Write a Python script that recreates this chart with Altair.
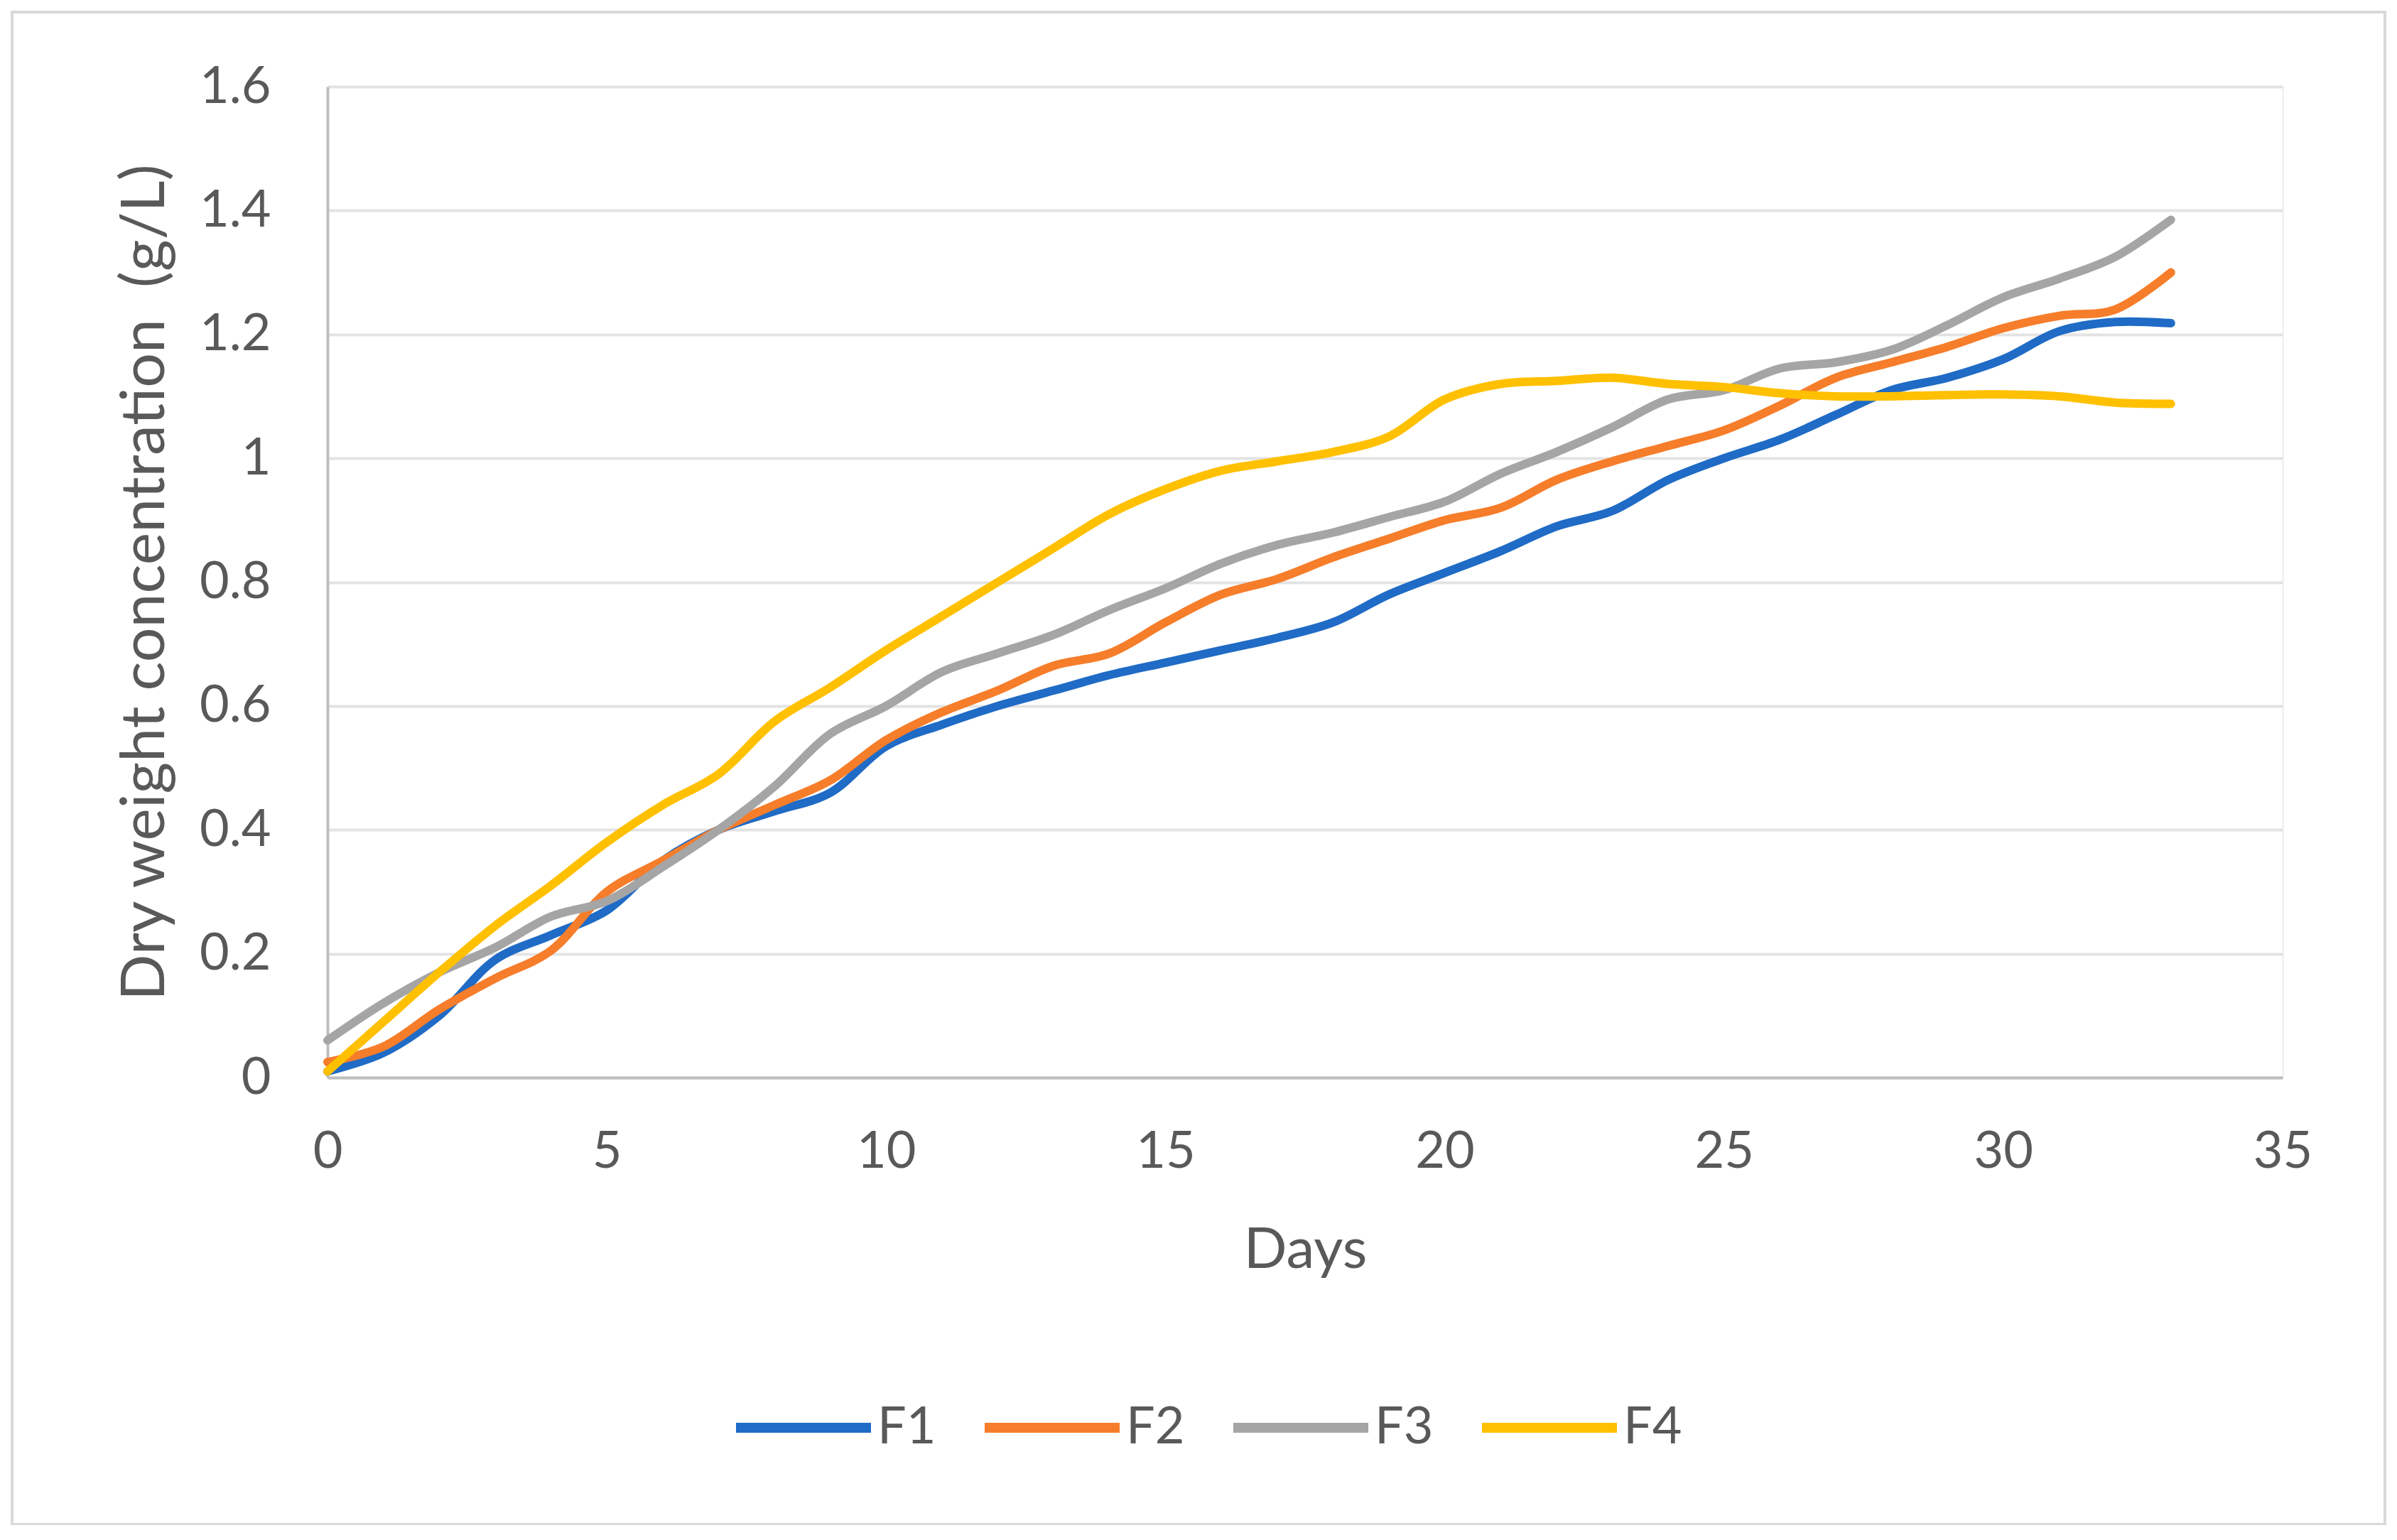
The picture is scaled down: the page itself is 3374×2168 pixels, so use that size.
import altair as alt
import pandas as pd

days = list(range(0, 34))
f1 = [0.01, 0.04, 0.10, 0.19, 0.23, 0.27, 0.35, 0.40, 0.43, 0.46, 0.535, 0.57, 0.60, 0.625, 0.65, 0.67,
      0.69, 0.71, 0.735, 0.78, 0.815, 0.85, 0.89, 0.915, 0.965, 1.00, 1.03, 1.07, 1.11, 1.13, 1.16, 1.205, 1.22, 1.218]
f2 = [0.025, 0.05, 0.11, 0.16, 0.205, 0.30, 0.35, 0.40, 0.44, 0.48, 0.545, 0.59, 0.625, 0.665, 0.685, 0.735,
      0.78, 0.805, 0.84, 0.87, 0.90, 0.92, 0.965, 0.995, 1.02, 1.045, 1.085, 1.13, 1.155, 1.18, 1.21, 1.23, 1.24, 1.30]
f3 = [0.06, 0.12, 0.17, 0.21, 0.26, 0.285, 0.34, 0.40, 0.47, 0.555, 0.60, 0.655, 0.685, 0.715, 0.755, 0.79,
      0.83, 0.86, 0.88, 0.905, 0.93, 0.975, 1.01, 1.05, 1.095, 1.11, 1.145, 1.155, 1.175, 1.215, 1.26, 1.29, 1.325, 1.385]
f4 = [0.01, 0.09, 0.17, 0.245, 0.31, 0.38, 0.44, 0.49, 0.575, 0.63, 0.69, 0.745, 0.80, 0.855, 0.91, 0.95,
      0.98, 0.995, 1.01, 1.035, 1.095, 1.12, 1.125, 1.13, 1.12, 1.115, 1.105, 1.10, 1.10, 1.102, 1.103, 1.10, 1.09, 1.088]

series_names = ["F1", "F2", "F3", "F4"]
series_colors = ["#1F6BC6", "#F67D2A", "#A5A5A5", "#FFC000"]
x_ticks = [0, 5, 10, 15, 20, 25, 30, 35]
y_ticks = [0, 0.2, 0.4, 0.6, 0.8, 1.0, 1.2, 1.4, 1.6]

rows = []
for name, vals in zip(series_names, [f1, f2, f3, f4]):
    for d, v in zip(days, vals):
        rows.append({"Days": d, "value": v, "series": name})
df = pd.DataFrame(rows)

FONT = "Lato"
TXT = "#595959"
W, H = 2752, 1395

lines = alt.Chart(df).mark_line(
    strokeWidth=12, interpolate="catmull-rom", strokeCap="round", strokeJoin="round"
).encode(
    x=alt.X("Days:Q", scale=alt.Scale(domain=[0, 35], nice=False),
            axis=alt.Axis(values=x_ticks, grid=False, ticks=False, tickSize=0,
                          domainColor="#BFBFBF", domainWidth=4,
                          labelFontSize=72, labelFont=FONT, labelColor=TXT,
                          labelPadding=104, labelBaseline="middle", labelFlush=False, labelOverlap=False,
                          title="Days", titleFontSize=80, titleFont=FONT, titleColor=TXT,
                          titleFontWeight="normal", titleY=243, titleBaseline="middle")),
    y=alt.Y("value:Q", scale=alt.Scale(domain=[0, 1.6], nice=False),
            axis=alt.Axis(values=y_ticks, format=".1~f", grid=True, gridColor="#E3E3E3", gridWidth=4,
                          ticks=False, tickSize=0, domainColor="#BFBFBF", domainWidth=4,
                          labelFontSize=72, labelFont=FONT, labelColor=TXT, labelPadding=80,
                          title="Dry weight concentration\u00a0 (g/L)", titleFontSize=86, titleFont=FONT,
                          titleColor=TXT, titleFontWeight="normal", titleAngle=270,
                          titleX=-257, titleY=H / 2, titleAlign="center", titleBaseline="middle")),
    color=alt.Color("series:N", scale=alt.Scale(domain=series_names, range=series_colors),
                    legend=alt.Legend(title=None, orient="none", direction="horizontal", columns=4,
                                      legendX=568, legendY=1786,
                                      symbolType="stroke", symbolSize=36100, symbolStrokeWidth=14,
                                      labelFontSize=72, labelFont=FONT, labelColor=TXT,
                                      labelOffset=2, columnPadding=40)),
)

frame = alt.Chart(pd.DataFrame({"a": [0]})).mark_rect(
    fill="transparent", stroke="#D9D9D9", strokeWidth=4, clip=False
).encode(
    x=alt.value(-444), x2=alt.value(2896), y=alt.value(-105), y2=alt.value(2024)
)

chart = alt.layer(frame, lines).properties(
    width=W, height=H,
    autosize=alt.AutoSizeParams(type="none"),
    padding={"left": 453, "top": 114, "right": 150, "bottom": 630},
).configure_view(stroke="#E3E3E3", strokeWidth=4).configure(background="white")

chart.save("out.html", embed_options={"renderer": "svg", "actions": False})
